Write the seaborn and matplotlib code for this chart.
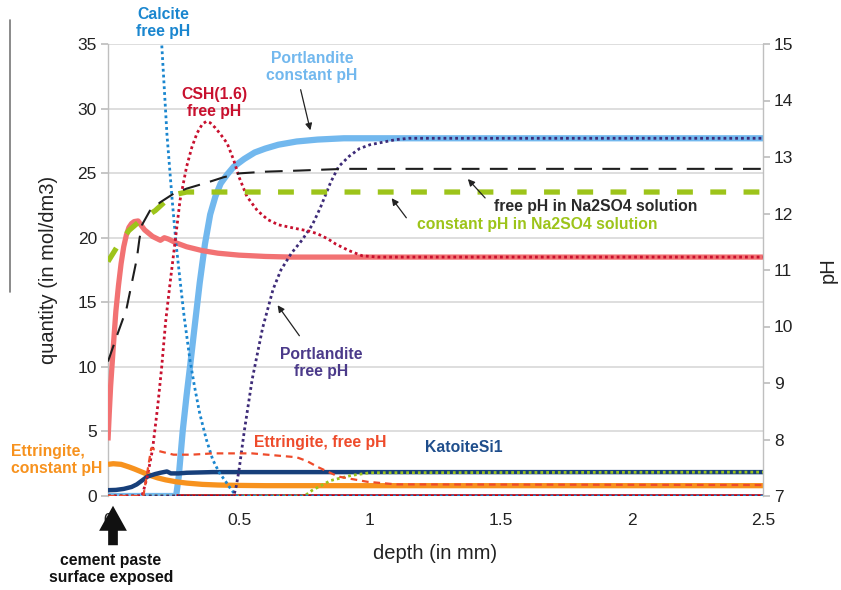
import numpy as np
import pandas as pd
import matplotlib
matplotlib.use("Agg")
import matplotlib.pyplot as plt
import seaborn as sns

# ---------------- data ----------------
# quantity axis (mol/dm3)
port_const_x = [0, 0.26, 0.27, 0.285, 0.30, 0.313, 0.33, 0.35, 0.37, 0.39, 0.41, 0.43, 0.455, 0.48,
                0.52, 0.56, 0.60, 0.65, 0.72, 0.80, 0.90, 2.5]
port_const_y = [0, 0, 1.5, 5, 7.8, 10, 13, 16.5, 19.5, 21.8, 23.2, 24.2, 24.9, 25.5,
                26.1, 26.6, 26.9, 27.2, 27.45, 27.6, 27.7, 27.7]

port_free_x = [0, 0.48, 0.49, 0.50, 0.52, 0.55, 0.59, 0.63, 0.66, 0.70, 0.74, 0.78, 0.81, 0.85,
               0.88, 0.92, 0.96, 1.0, 1.05, 1.10, 1.15, 2.5]
port_free_y = [0, 0, 0.8, 2, 5, 9, 13, 16, 17.5, 18.8, 19.8, 21, 22.3, 24.3,
               25.5, 26.3, 26.9, 27.2, 27.4, 27.6, 27.7, 27.7]

calcite_free_x = [0.19, 0.205, 0.225, 0.245, 0.26, 0.275, 0.29, 0.313, 0.33, 0.35, 0.375, 0.40,
                  0.425, 0.45, 0.47, 0.49, 2.5]
calcite_free_y = [39, 35, 28, 22.9, 19.5, 16.7, 14, 10.5, 8.5, 6.4, 4.4, 2.8,
                  1.8, 1.1, 0.5, 0, 0]

csh_free_x = [0, 0.13, 0.15, 0.17, 0.19, 0.205, 0.22, 0.237, 0.255, 0.275, 0.30, 0.32, 0.34, 0.36,
              0.375, 0.39, 0.41, 0.43, 0.455, 0.48, 0.50, 0.53, 0.57, 0.61, 0.65, 0.72, 0.77,
              0.80, 0.84, 0.87, 0.92, 0.97, 1.03, 2.5]
csh_free_y = [0, 0, 1.5, 3.6, 7, 10, 13.5, 16.5, 19.5, 22.9, 25.5, 27, 28.1, 28.8,
              29, 28.9, 28.5, 28, 27.3, 26, 24.7, 23.2, 22.1, 21.4, 21, 20.7, 20.5,
              20.3, 19.9, 19.5, 19, 18.6, 18.5, 18.5]

csh_const_x = [0, 0.005, 0.01, 0.02, 0.03, 0.04, 0.05, 0.06, 0.07, 0.08, 0.09, 0.10, 0.115, 0.125,
               0.14, 0.17, 0.20, 0.215, 0.23, 0.26, 0.30, 0.36, 0.42, 0.50, 0.60, 0.70, 2.5]
csh_const_y = [4.3, 6.5, 8.5, 11.5, 14.3, 16.3, 18, 19.3, 20.2, 20.8, 21.1, 21.25, 21.3, 21.0,
               20.6, 20.1, 19.8, 20.0, 19.9, 19.6, 19.3, 19.0, 18.8, 18.65, 18.55, 18.5, 18.5]

ett_free_x = [0, 0.135, 0.165, 0.19, 0.25, 0.32, 0.4, 0.55, 0.72, 0.76, 0.8, 0.88, 0.99, 1.1, 2.5]
ett_free_y = [0, 0, 3.7, 3.5, 3.2, 3.2, 3.3, 3.3, 3.0, 2.7, 2.25, 1.5, 1.1, 0.9, 0.85]

ett_const_x = [0, 0.02, 0.05, 0.08, 0.10, 0.13, 0.16, 0.19, 0.22, 0.26, 0.30, 0.36, 0.42, 0.50, 0.60, 2.5]
ett_const_y = [2.45, 2.5, 2.45, 2.25, 2.1, 1.85, 1.6, 1.4, 1.25, 1.1, 1.0, 0.9, 0.85, 0.82, 0.8, 0.8]

katoite_x = [0, 0.03, 0.06, 0.09, 0.11, 0.13, 0.15, 0.18, 0.20, 0.225, 0.24, 0.27, 0.30, 0.40, 2.5]
katoite_y = [0.45, 0.47, 0.55, 0.7, 0.9, 1.2, 1.5, 1.7, 1.8, 1.9, 1.75, 1.75, 1.8, 1.85, 1.85]

katoite_free_x = [0, 0.75, 0.78, 0.85, 0.93, 1.0, 2.5]
katoite_free_y = [0, 0, 0.45, 1.2, 1.6, 1.8, 1.85]

zero_x = [0.26, 2.5]
zero_y = [0, 0]

# pH axis
na_const_x = [0, 0.04, 0.08, 0.13, 0.18, 0.22, 0.25, 0.30, 2.5]
na_const_ph = [11.15, 11.45, 11.7, 11.9, 12.05, 12.22, 12.33, 12.38, 12.38]

na_free_x = [0, 0.035, 0.07, 0.09, 0.11, 0.12, 0.13, 0.16, 0.20, 0.25, 0.30, 0.38, 0.44, 0.50,
             0.60, 0.73, 0.90, 2.5]
na_free_ph = [9.38, 9.85, 10.3, 10.75, 11.2, 11.55, 11.8, 12.05, 12.2, 12.35, 12.44, 12.55, 12.64, 12.71,
              12.74, 12.76, 12.79, 12.79]

x_ticks = [0, 0.5, 1, 1.5, 2, 2.5]
x_tick_labels = ["0", "0.5", "1", "1.5", "2", "2.5"]
q_ticks = [0, 5, 10, 15, 20, 25, 30, 35]
ph_ticks = [7, 8, 9, 10, 11, 12, 13, 14, 15]

# ---------------- figure ----------------
sns.set_theme(style="white")
plt.rcParams['font.family'] = ['Liberation Sans', 'DejaVu Sans']

fig = plt.figure(figsize=(8.41, 5.90), dpi=100)
ax = fig.add_axes([108/841, 1 - 496/590, (763 - 108)/841, (496 - 44)/590])
ax2 = ax.twinx()

def line(a, xs, ys, color, lw, ls="-", z=2):
    sns.lineplot(x=xs, y=ys, ax=a, color=color, linewidth=lw, linestyle=ls,
                 sort=False, estimator=None, zorder=z, solid_capstyle="butt",
                 solid_joinstyle="round", dash_capstyle="butt", legend=False)

dot = (0, (1.0, 1.1))
# quantity series
line(ax, port_const_x, port_const_y, "#72B8EE", 4.5, z=3)
line(ax, zero_x, zero_y, "#C00010", 3.4, z=3)
line(ax, csh_const_x, csh_const_y, "#F27273", 3.8, z=3)
line(ax, ett_const_x, ett_const_y, "#F7921E", 3.8, z=3)
line(ax, katoite_x, katoite_y, "#173F7A", 3.2, z=4)
line(ax, katoite_free_x, katoite_free_y, "#9AC31C", 2.0, ls=dot, z=5)
line(ax, calcite_free_x, calcite_free_y, "#1A86CF", 2.0, ls=dot, z=5)
line(ax, port_free_x, port_free_y, "#3D2B78", 2.0, ls=dot, z=5)
line(ax, csh_free_x, csh_free_y, "#C8102E", 2.0, ls=dot, z=5)
line(ax, ett_free_x, ett_free_y, "#EE4B2B", 1.6, ls=(0, (3, 2.2)), z=5)

# pH series
line(ax2, na_const_x, na_const_ph, "#9DC41A", 3.8, ls=(0, (3.0, 3.3)), z=3)
line(ax2, na_free_x, na_free_ph, "#1E1E1E", 1.5, ls=(0, (8.5, 5)), z=3)

ax.set_xlim(0, 2.5)
ax.set_ylim(0, 35)
ax2.set_ylim(7, 15)
ax.set_xticks(x_ticks)
ax.set_xticklabels(x_tick_labels)
ax.set_yticks(q_ticks)
ax2.set_yticks(ph_ticks)
ax.yaxis.grid(True, color="#D4D4D4", linewidth=1.1)
ax.set_axisbelow(True)

for a in (ax, ax2):
    for s in ("top", "bottom"):
        a.spines[s].set_visible(False)
    a.spines["left"].set_color("#BFBFBF")
    a.spines["right"].set_color("#BFBFBF")
    a.spines["left"].set_linewidth(1.0)
    a.spines["right"].set_linewidth(1.0)
ax.spines["right"].set_visible(False)
ax2.spines["left"].set_visible(False)

ax.tick_params(axis="y", which="both", left=True, length=5, color="#BFBFBF",
               labelsize=12.5, labelcolor="#222222", pad=3)
ax.tick_params(axis="x", bottom=False, labelsize=12.5, labelcolor="#222222", pad=6)
ax2.tick_params(axis="y", right=True, length=5, color="#BFBFBF",
                labelsize=12.5, labelcolor="#222222", pad=3)

ax.set_xlabel("depth (in mm)", fontsize=14.5, color="#222222", labelpad=12)
ax.set_ylabel("quantity (in mol/dm3)", fontsize=14.5, color="#222222", labelpad=14)
ax2.set_ylabel("pH", fontsize=14.5, color="#222222", labelpad=18)

# ---------------- annotations ----------------
def T(x, y, s, c, size=11.3, **kw):
    fig.text(x/841, 1 - y/590, s, color=c, fontsize=size, fontweight="bold",
             ha=kw.pop("ha", "center"), va=kw.pop("va", "center"), linespacing=1.2, **kw)

T(163, 23, "Calcite\nfree pH", "#1A86CF")
T(312, 67, "Portlandite\nconstant pH", "#72B8EE")
T(214, 103, "CSH(1.6)\nfree pH", "#C8102E")
T(596, 206, "free pH in Na2SO4 solution", "#2A2A2A")
T(537, 224, "constant pH in Na2SO4 solution", "#9DC41A")
T(321, 363, "Portlandite\nfree pH", "#4B3A8A")
T(320, 443, "Ettringite, free pH", "#EE4B2B")
T(464, 448, "KatoiteSi1", "#1F4E8C")
T(11, 460, "Ettringite,\nconstant pH", "#F7921E", ha="left")
T(111, 569, "cement paste\nsurface exposed", "#111111")

def arrow(x0, y0, x1, y1, lw=0.9, ms=10):
    fig.add_artist(matplotlib.patches.FancyArrowPatch(
        (x0/841, 1 - y0/590), (x1/841, 1 - y1/590), transform=fig.transFigure,
        arrowstyle="-|>", mutation_scale=ms, color="#222222", linewidth=lw))

arrow(300, 87, 311, 133)
arrow(487, 200, 466, 177)
arrow(408, 220, 390, 196)
arrow(301, 338, 276, 303)
fig.add_artist(matplotlib.patches.FancyArrowPatch(
    (113/841, 1 - 548/590), (113/841, 1 - 503/590), transform=fig.transFigure,
    arrowstyle="simple,head_width=1.0,head_length=0.9,tail_width=0.35",
    mutation_scale=20, color="#111111", linewidth=0))

# stray vertical line at left
fig.add_artist(matplotlib.lines.Line2D([10/841, 10/841], [1 - 20/590, 1 - 292/590],
                                       transform=fig.transFigure, color="#777777", linewidth=1.2))

fig.savefig("out.png", dpi=100, facecolor="white")
